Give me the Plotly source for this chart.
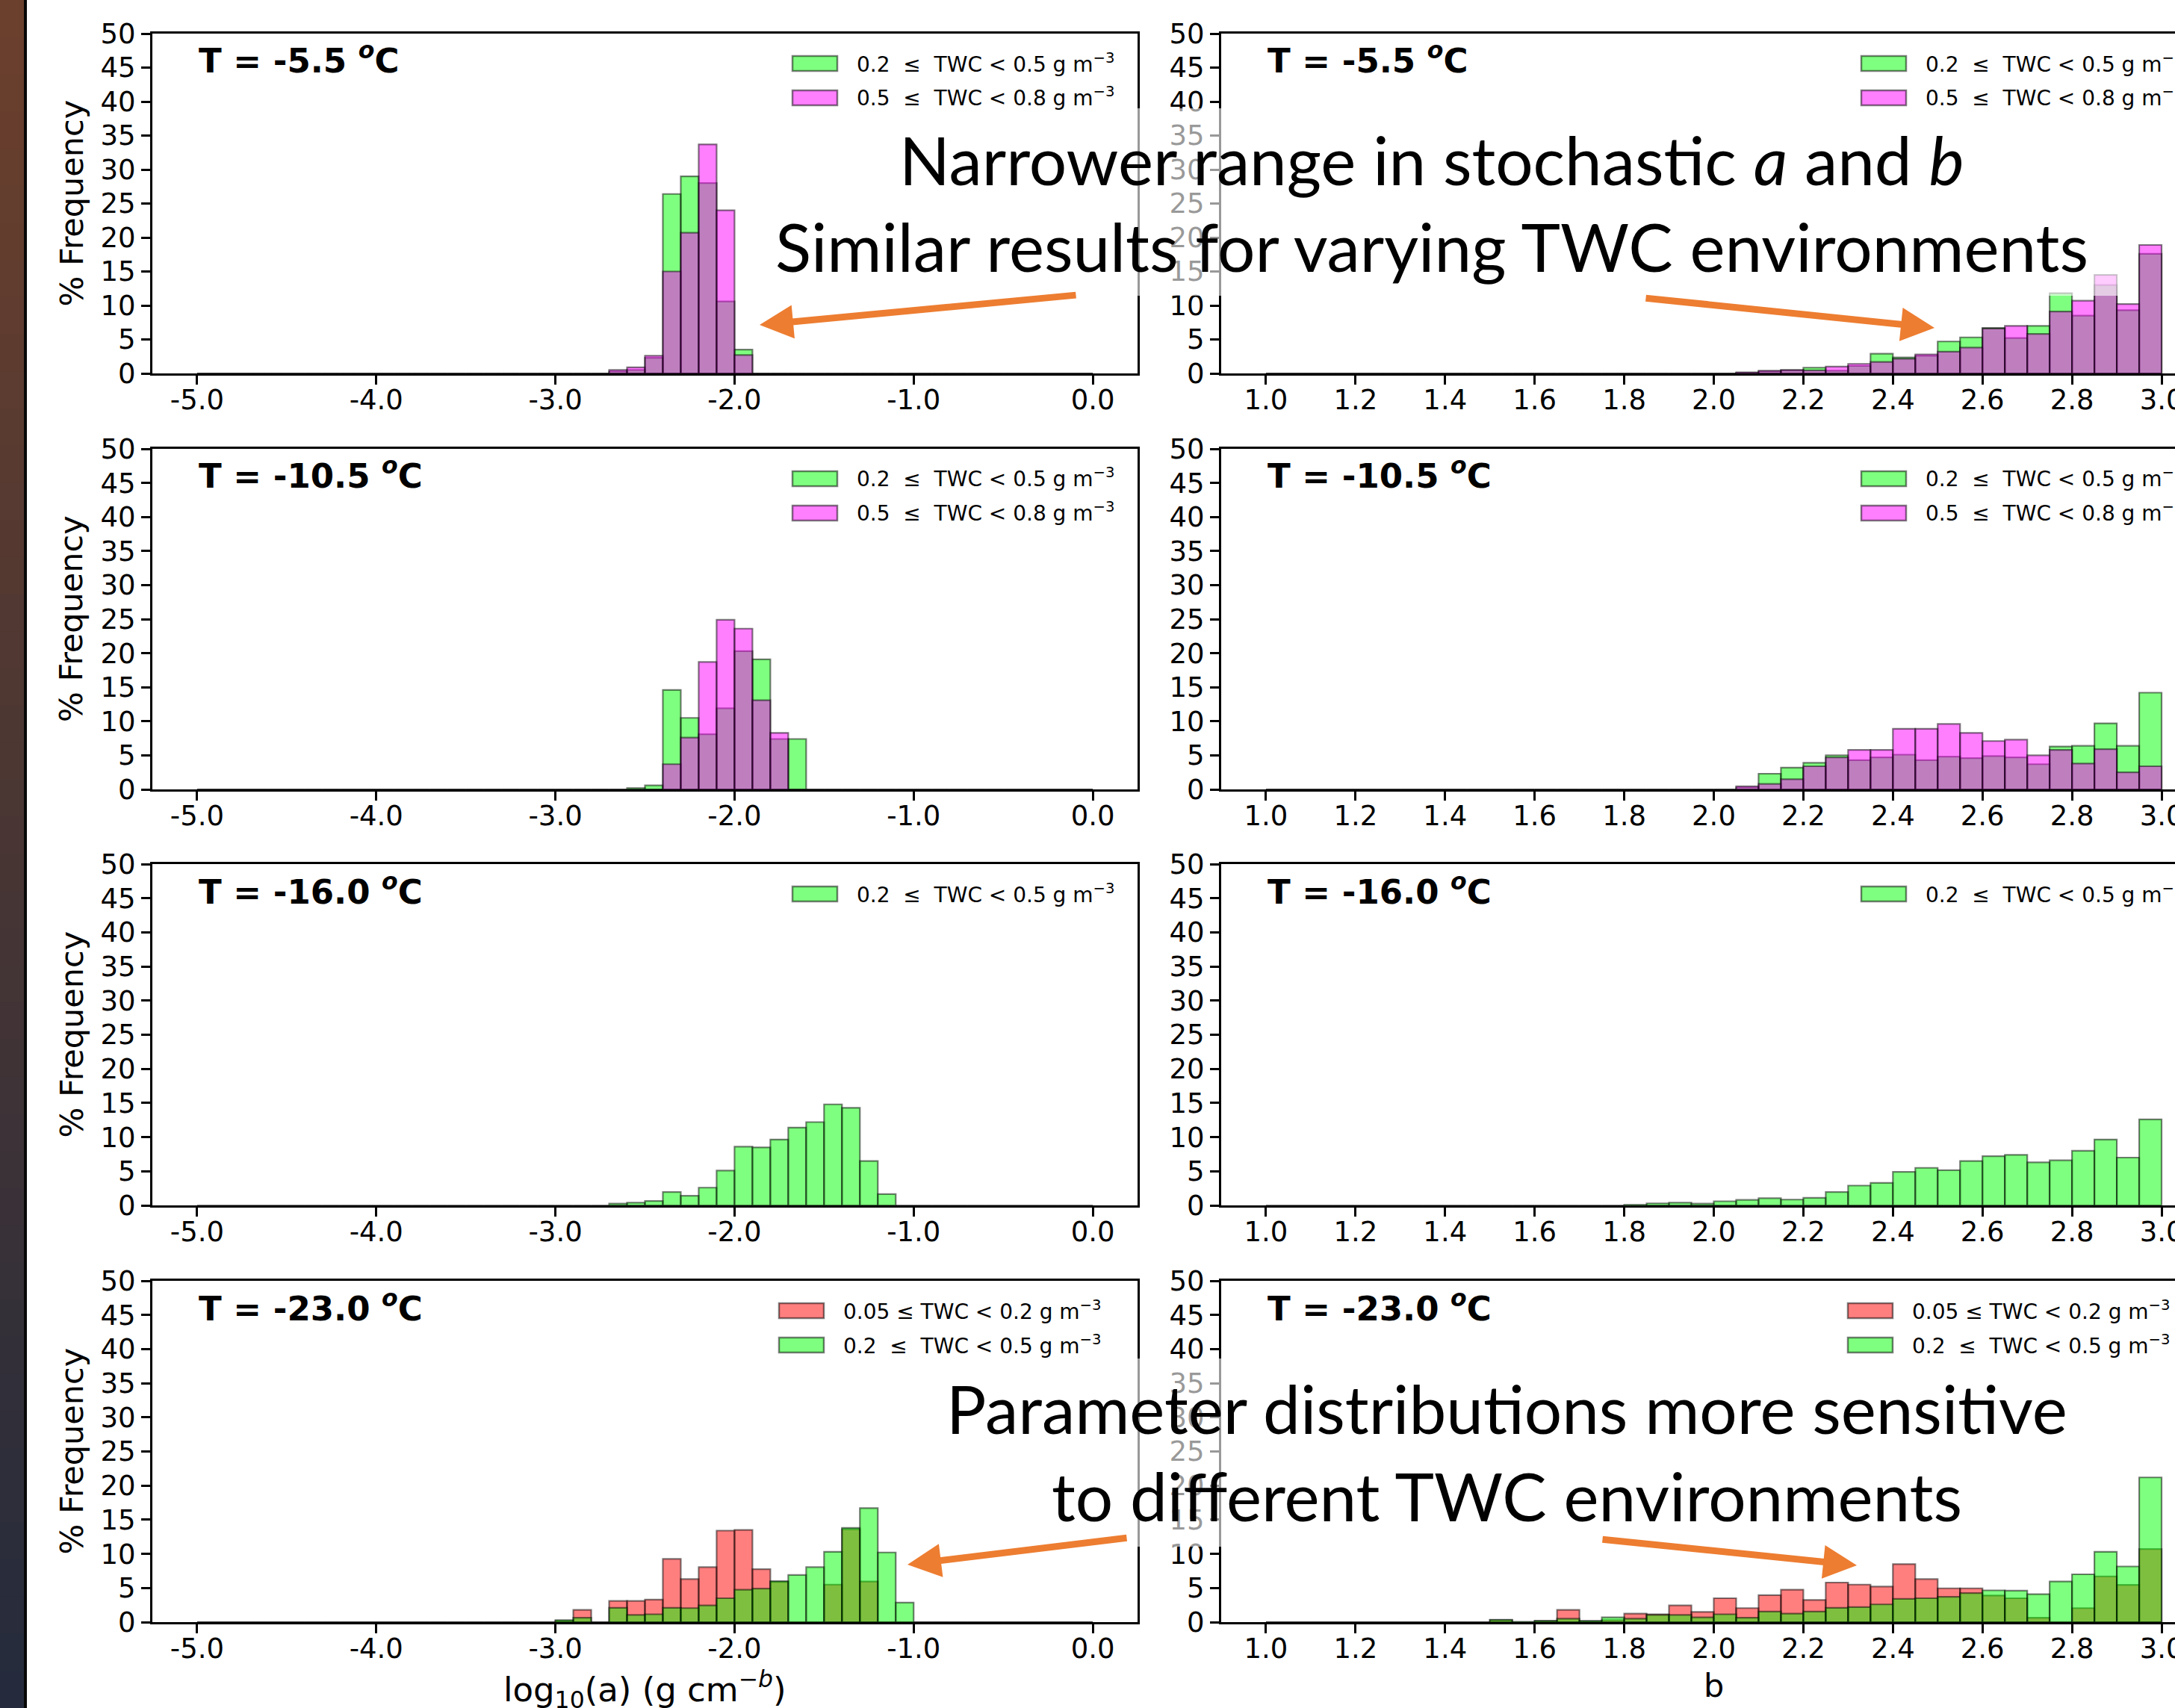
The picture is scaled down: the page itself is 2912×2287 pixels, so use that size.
import plotly.graph_objects as go

W, H = 2912, 2287

# ---------------- data (bin left edges, % frequency) ----------------
A_BINS = [-5.0, -4.9, -4.8, -4.7, -4.6, -4.5, -4.4, -4.3, -4.2, -4.1,
          -4.0, -3.9, -3.8, -3.7, -3.6, -3.5, -3.4, -3.3, -3.2, -3.1,
          -3.0, -2.9, -2.8, -2.7, -2.6, -2.5, -2.4, -2.3, -2.2, -2.1,
          -2.0, -1.9, -1.8, -1.7, -1.6, -1.5, -1.4, -1.3, -1.2, -1.1,
          -1.0, -0.9, -0.8, -0.7, -0.6, -0.5, -0.4, -0.3, -0.2, -0.1]
B_BINS = [1.00, 1.05, 1.10, 1.15, 1.20, 1.25, 1.30, 1.35, 1.40, 1.45,
          1.50, 1.55, 1.60, 1.65, 1.70, 1.75, 1.80, 1.85, 1.90, 1.95,
          2.00, 2.05, 2.10, 2.15, 2.20, 2.25, 2.30, 2.35, 2.40, 2.45,
          2.50, 2.55, 2.60, 2.65, 2.70, 2.75, 2.80, 2.85, 2.90, 2.95]
A_BIN_WIDTH = 0.1
B_BIN_WIDTH = 0.05

# T = -5.5 C
A_T1_MID = [0, 0, 0, 0, 0, 0, 0, 0, 0, 0,
            0, 0, 0, 0, 0, 0, 0, 0, 0, 0,
            0, 0, 0, 0.3, 0.5, 2.3, 26.4, 29.0, 28.0, 10.6,
            3.5, 0, 0, 0, 0, 0, 0, 0, 0, 0,
            0, 0, 0, 0, 0, 0, 0, 0, 0, 0]
A_T1_HIGH = [0, 0, 0, 0, 0, 0, 0, 0, 0, 0,
             0, 0, 0, 0, 0, 0, 0, 0, 0, 0,
             0, 0, 0, 0.5, 0.9, 2.6, 15.0, 20.7, 33.7, 24.0,
             2.7, 0, 0, 0, 0, 0, 0, 0, 0, 0,
             0, 0, 0, 0, 0, 0, 0, 0, 0, 0]
B_T1_MID = [0, 0, 0, 0, 0, 0, 0, 0, 0, 0,
            0, 0, 0, 0, 0, 0, 0, 0, 0, 0,
            0, 0.1, 0.3, 0.45, 0.85, 0.4, 1.1, 2.9, 2.35, 2.6,
            4.7, 5.3, 6.7, 5.2, 7.0, 11.8, 8.5, 13.0, 9.3, 17.6]
B_T1_HIGH = [0, 0, 0, 0, 0, 0, 0, 0, 0, 0,
             0, 0, 0, 0, 0, 0, 0, 0, 0, 0,
             0, 0.15, 0.4, 0.5, 0.45, 1.0, 1.4, 1.7, 2.15, 2.8,
             3.2, 3.8, 6.6, 7.0, 5.8, 9.1, 10.7, 14.5, 10.2, 18.9]

# T = -10.5 C
A_T2_MID = [0, 0, 0, 0, 0, 0, 0, 0, 0, 0,
            0, 0, 0, 0, 0, 0, 0, 0, 0, 0,
            0, 0, 0, 0, 0.2, 0.6, 14.6, 10.5, 8.1, 11.9,
            20.3, 19.1, 7.4, 7.4, 0, 0, 0, 0, 0, 0,
            0, 0, 0, 0, 0, 0, 0, 0, 0, 0]
A_T2_HIGH = [0, 0, 0, 0, 0, 0, 0, 0, 0, 0,
             0, 0, 0, 0, 0, 0, 0, 0, 0, 0,
             0, 0, 0, 0, 0, 0, 3.7, 7.6, 18.7, 24.9,
             23.6, 13.1, 8.3, 0, 0, 0, 0, 0, 0, 0,
             0, 0, 0, 0, 0, 0, 0, 0, 0, 0]
B_T2_MID = [0, 0, 0, 0, 0, 0, 0, 0, 0, 0,
            0, 0, 0, 0, 0, 0, 0, 0, 0, 0,
            0, 0.3, 2.3, 3.2, 3.9, 5.0, 4.3, 4.7, 5.1, 4.3,
            4.8, 4.6, 4.9, 4.7, 3.7, 6.3, 6.4, 9.7, 6.4, 14.2]
B_T2_HIGH = [0, 0, 0, 0, 0, 0, 0, 0, 0, 0,
             0, 0, 0, 0, 0, 0, 0, 0, 0, 0,
             0, 0.45, 0.8, 1.5, 3.4, 4.7, 5.8, 5.8, 8.9, 8.9,
             9.6, 8.3, 7.1, 7.3, 5.0, 5.8, 3.8, 5.9, 2.5, 3.4]

# T = -16.0 C
A_T3_MID = [0, 0, 0, 0, 0, 0, 0, 0, 0, 0,
            0, 0, 0, 0, 0, 0, 0, 0, 0, 0,
            0, 0, 0, 0.27, 0.4, 0.65, 1.95, 1.4, 2.6, 5.1,
            8.6, 8.5, 9.65, 11.4, 12.2, 14.8, 14.3, 6.5, 1.65, 0,
            0, 0, 0, 0, 0, 0, 0, 0, 0, 0]
B_T3_MID = [0, 0, 0, 0, 0, 0, 0, 0, 0, 0,
            0, 0, 0, 0, 0, 0, 0.1, 0.3, 0.4, 0.25,
            0.6, 0.8, 1.05, 0.85, 1.1, 1.95, 2.9, 3.3, 4.9, 5.5,
            5.15, 6.5, 7.2, 7.4, 6.3, 6.6, 8.0, 9.65, 7.0, 12.6]

# T = -23.0 C
A_T4_LOW = [0, 0, 0, 0, 0, 0, 0, 0, 0, 0,
            0, 0, 0, 0, 0, 0, 0, 0, 0, 0,
            0.2, 1.8, 0, 3.1, 3.1, 3.3, 9.25, 6.3, 8.05, 13.4,
            13.5, 7.75, 5.9, 0, 0, 5.5, 13.6, 5.95, 0, 0,
            0, 0, 0, 0, 0, 0, 0, 0, 0, 0]
A_T4_MID = [0, 0, 0, 0, 0, 0, 0, 0, 0, 0,
            0, 0, 0, 0, 0, 0, 0, 0, 0, 0,
            0.3, 0.65, 0, 2.1, 1.05, 1.15, 2.1, 2.05, 2.45, 3.5,
            4.75, 4.9, 6.0, 6.9, 8.05, 10.3, 13.8, 16.7, 10.2, 2.85,
            0, 0, 0, 0, 0, 0, 0, 0, 0, 0]
B_T4_LOW = [0, 0, 0, 0, 0, 0, 0, 0, 0, 0,
            0.3, 0, 0.15, 1.8, 0.1, 0.3, 1.25, 1.15, 2.45, 1.5,
            3.5, 2.05, 3.95, 4.75, 3.25, 5.8, 5.5, 5.2, 8.5, 6.3,
            4.95, 4.95, 3.9, 3.5, 0.65, 0, 2.05, 6.7, 5.45, 10.7]
B_T4_MID = [0, 0, 0, 0, 0, 0, 0, 0, 0, 0,
            0.35, 0.05, 0.2, 0.5, 0.2, 0.7, 0.5, 1.05, 1.05, 0.7,
            1.15, 0.65, 1.55, 1.25, 1.55, 2.1, 2.2, 2.6, 3.4, 3.5,
            3.7, 4.25, 4.65, 4.6, 4.1, 5.95, 7.0, 10.3, 8.15, 21.2]

TEMPS = ["-5.5", "-10.5", "-16.0", "-23.0"]

LBL_LOW = "0.05\u00a0≤\u00a0TWC < 0.2 g m<sup>−3</sup>"
LBL_MID = "0.2\u00a0\u00a0≤\u00a0\u00a0TWC < 0.5 g m<sup>−3</sup>"
LBL_HIGH = "0.5\u00a0\u00a0≤\u00a0\u00a0TWC < 0.8 g m<sup>−3</sup>"

A_TICKS = [-5.0, -4.0, -3.0, -2.0, -1.0, 0.0]
A_TICK_TEXT = ["-5.0", "-4.0", "-3.0", "-2.0", "-1.0", "0.0"]
B_TICKS = [1.0, 1.2, 1.4, 1.6, 1.8, 2.0, 2.2, 2.4, 2.6, 2.8, 3.0]
B_TICK_TEXT = ["1.0", "1.2", "1.4", "1.6", "1.8", "2.0", "2.2", "2.4", "2.6", "2.8", "3.0"]
Y_TICKS = [0, 5, 10, 15, 20, 25, 30, 35, 40, 45, 50]

NOTE_TOP = ["Narrower range in stochastic <i>a</i> and <i>b</i>",
            "Similar results for varying TWC environments"]
NOTE_BOTTOM = ["Parameter distributions more sensitive",
               "to different TWC environments"]

# ---------------- styling ----------------
GREEN = "rgba(0,255,0,0.5)"
MAGENTA = "rgba(255,0,255,0.5)"
RED = "rgba(255,0,0,0.5)"
EDGE = "rgba(0,0,0,0.5)"
ORANGE = "#ED7D31"
FONT = "DejaVu Sans"

ROW_TOP = [45, 601, 1157, 1715]
ROW_BOT = [500, 1057, 1614, 2172]
COL_LEFT = [204, 1635]
COL_RIGHT = [1523, 2954]
A_RANGE = [-5.25, 0.25]
B_FULL = [0.9, 3.1]


def px(x):
    return x / W


def py(y):
    return 1 - y / H


panels = [
    (0, 0, [(A_T1_MID, GREEN, LBL_MID), (A_T1_HIGH, MAGENTA, LBL_HIGH)]),
    (0, 1, [(B_T1_MID, GREEN, LBL_MID), (B_T1_HIGH, MAGENTA, LBL_HIGH)]),
    (1, 0, [(A_T2_MID, GREEN, LBL_MID), (A_T2_HIGH, MAGENTA, LBL_HIGH)]),
    (1, 1, [(B_T2_MID, GREEN, LBL_MID), (B_T2_HIGH, MAGENTA, LBL_HIGH)]),
    (2, 0, [(A_T3_MID, GREEN, LBL_MID)]),
    (2, 1, [(B_T3_MID, GREEN, LBL_MID)]),
    (3, 0, [(A_T4_LOW, RED, LBL_LOW), (A_T4_MID, GREEN, LBL_MID)]),
    (3, 1, [(B_T4_LOW, RED, LBL_LOW), (B_T4_MID, GREEN, LBL_MID)]),
]

fig = go.Figure()
layout = dict(
    width=W, height=H, margin=dict(l=0, r=0, t=0, b=0),
    template="none", paper_bgcolor="white", plot_bgcolor="white",
    barmode="overlay", showlegend=False,
    font=dict(family=FONT, color="black"),
)
shapes = []
annotations = []

# left decorative slide strip
N_STRIP = 46
top_c, bot_c = (108, 64, 44), (36, 43, 60)
seg = H / N_STRIP
for i in range(N_STRIP):
    t = (i + 0.5) / N_STRIP
    c = tuple(int(round(top_c[k] + (bot_c[k] - top_c[k]) * t)) for k in range(3))
    shapes.append(dict(type="rect", xref="paper", yref="paper", layer="above",
                       x0=0, x1=px(32), y0=py(min(H, (i + 1) * seg + 1)), y1=py(i * seg),
                       fillcolor="rgb(%d,%d,%d)" % c, line=dict(width=0)))
shapes.append(dict(type="rect", xref="paper", yref="paper", layer="above",
                   x0=px(32), x1=px(36), y0=0, y1=1, fillcolor="#080808", line=dict(width=0)))

ppu_b = (COL_RIGHT[1] - COL_LEFT[1]) / (B_FULL[1] - B_FULL[0])
B_RANGE = [B_FULL[0], B_FULL[0] + (W - COL_LEFT[1]) / ppu_b]

axis_common = dict(showline=True, linecolor="black", linewidth=3, ticks="outside",
                   ticklen=12, tickwidth=2.5, tickcolor="black", showgrid=False,
                   zeroline=False, tickfont=dict(family=FONT, size=37, color="black"),
                   ticklabeloverflow="allow")

for (row, col, series) in panels:
    n = 2 * row + col + 1
    xs = "x" if n == 1 else "x%d" % n
    ys = "y" if n == 1 else "y%d" % n
    bins = A_BINS if col == 0 else B_BINS
    bw = A_BIN_WIDTH if col == 0 else B_BIN_WIDTH
    for vals, color, label in series:
        fig.add_trace(go.Bar(x=bins, y=vals, width=bw, offset=0, xaxis=xs, yaxis=ys,
                             name=label, marker=dict(color=color, line=dict(color=EDGE, width=2.2)),
                             showlegend=False, hoverinfo="x+y"))
    xd = [px(COL_LEFT[col]), min(1.0, px(COL_RIGHT[col]))]
    yd = [py(ROW_BOT[row]), py(ROW_TOP[row])]
    xa = dict(axis_common, domain=xd, anchor=ys, mirror=True, ticklabelstandoff=-11)
    if col == 0:
        xa.update(range=A_RANGE, tickmode="array", tickvals=A_TICKS, ticktext=A_TICK_TEXT)
    else:
        xa.update(range=B_RANGE, tickmode="array", tickvals=B_TICKS, ticktext=B_TICK_TEXT)
    ya = dict(axis_common, domain=yd, anchor=xs, range=[0, 50], tickmode="array",
              tickvals=Y_TICKS, ticktext=[str(v) for v in Y_TICKS], mirror=(col == 0))
    layout["xaxis" if n == 1 else "xaxis%d" % n] = xa
    layout["yaxis" if n == 1 else "yaxis%d" % n] = ya

    # panel title
    annotations.append(dict(xref="paper", yref="paper", x=px(COL_LEFT[col] + 60), y=py(ROW_TOP[row] + 34),
                            xanchor="left", yanchor="middle", showarrow=False,
                            text="<b>T = %s <sup><i>o</i></sup>C</b>" % TEMPS[row],
                            font=dict(family=FONT, size=45, color="black")))
    # legend (drawn by hand to match patch sizes)
    off = 839 if row == 3 else 857
    for k, (vals, color, label) in enumerate(series):
        top = ROW_TOP[row] + 30 + 46 * k
        x0 = COL_LEFT[col] + off
        shapes.append(dict(type="rect", xref="paper", yref="paper", layer="above",
                           x0=px(x0), x1=px(x0 + 60), y0=py(top + 20), y1=py(top),
                           fillcolor=color, line=dict(color=EDGE, width=2.5)))
        annotations.append(dict(xref="paper", yref="paper", x=px(x0 + 84), y=py(top + 9),
                                xanchor="left", yanchor="middle", showarrow=False, text=label,
                                font=dict(family=FONT, size=28, color="black")))
    # y title
    if col == 0:
        annotations.append(dict(xref="paper", yref="paper", x=px(95),
                                y=py((ROW_TOP[row] + ROW_BOT[row]) / 2), textangle=-90,
                                xanchor="center", yanchor="middle", showarrow=False,
                                text="% Frequency", font=dict(family=FONT, size=43, color="black")))

# x titles
annotations.append(dict(xref="x7", yref="paper", x=-2.5, y=py(2262), xanchor="center", yanchor="middle",
                        showarrow=False, text="log<sub>10</sub>(a) (g cm<sup>−<i>b</i></sup>)",
                        font=dict(family=FONT, size=45, color="black")))
annotations.append(dict(xref="x8", yref="paper", x=2.0, y=py(2257), xanchor="center", yanchor="middle",
                        showarrow=False, text="b", font=dict(family=FONT, size=43, color="black")))

# semi-transparent white text boxes
shapes.append(dict(type="rect", xref="paper", yref="paper", layer="above",
                   x0=px(1030), x1=px(2850), y0=py(396), y1=py(145),
                   fillcolor="rgba(255,255,255,0.6)", line=dict(width=0)))
shapes.append(dict(type="rect", xref="paper", yref="paper", layer="above",
                   x0=px(1250), x1=px(2800), y0=py(2071), y1=py(1819),
                   fillcolor="rgba(255,255,255,0.6)", line=dict(width=0)))

BIG = dict(family="Lato", size=89, color="black")
for txt, cx, base in [(NOTE_TOP[0], 1917, 245), (NOTE_TOP[1], 1917, 361),
                      (NOTE_BOTTOM[0], 2017, 1918), (NOTE_BOTTOM[1], 2017, 2034)]:
    annotations.append(dict(xref="paper", yref="paper", x=px(cx), y=py(base - 32),
                            xanchor="center", yanchor="middle", showarrow=False,
                            text=txt, font=BIG))

# arrows (tip, tail)
for (tx, ty), (sx, sy) in [((1017, 435), (1442, 395)), ((2590, 439), (2202, 399)),
                           ((1215, 2095), (1510, 2059)), ((2486, 2096), (2144, 2061))]:
    annotations.append(dict(xref="paper", yref="paper", x=px(tx), y=py(ty),
                            ax=sx - tx, ay=sy - ty, axref="pixel", ayref="pixel",
                            showarrow=True, arrowhead=2, arrowsize=1, arrowwidth=9,
                            arrowcolor=ORANGE, text="", standoff=0))

layout["shapes"] = shapes
layout["annotations"] = annotations
fig.update_layout(**layout)

fig.write_html("out.html", config={"displayModeBar": False},
               post_script="document.body.style.margin='0';document.body.style.overflow='hidden';")
